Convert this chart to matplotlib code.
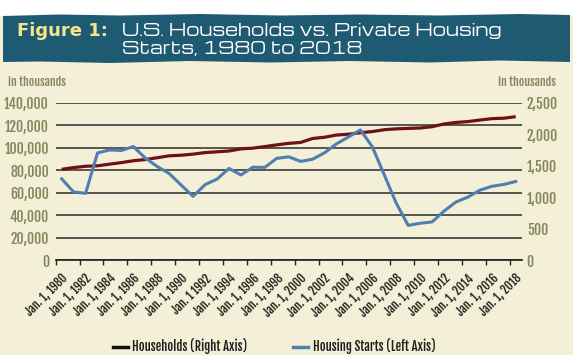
import matplotlib
matplotlib.use('Agg')
import matplotlib.pyplot as plt
from matplotlib.lines import Line2D
from matplotlib.patches import Rectangle, Polygon
from matplotlib.ticker import FixedLocator, FuncFormatter

# ---------------- data ----------------
years = list(range(1980, 2019))
households = [80776, 82368, 83527, 83918, 85407, 86789, 88458, 89479, 91124, 92830,
              93347, 94312, 95669, 96391, 97107, 98990, 99627, 101018, 102528, 103874,
              104705, 108209, 109297, 111278, 112000, 113343, 114384, 116011, 116783, 117181,
              117538, 118682, 121084, 122459, 123229, 124587, 125819, 126224, 127586]
housing_starts = [1292, 1084, 1062, 1703, 1750, 1742, 1805, 1621, 1488, 1376,
                  1193, 1014, 1200, 1288, 1457, 1354, 1477, 1474, 1617, 1641,
                  1569, 1603, 1705, 1848, 1956, 2068, 1801, 1355, 906, 554,
                  587, 609, 781, 925, 1003, 1112, 1174, 1203, 1250]
x_tick_labels = ["Jan. 1, 1980", "Jan. 1, 1982", "Jan. 1, 1984", "Jan. 1, 1986",
                 "Jan. 1, 1988", "Jan. 1, 1990", "Jan. 1 1992", "Jan. 1, 1994",
                 "Jan. 1, 1996", "Jan. 1, 1998", "Jan. 1, 2000", "Jan. 1, 2002",
                 "Jan. 1, 2004", "Jan. 1, 2006", "Jan. 1, 2008", "Jan. 1, 2010",
                 "Jan. 1, 2012", "Jan. 1, 2014", "Jan. 1, 2016", "Jan. 1, 2018"]
left_ticks = [0, 20000, 40000, 60000, 80000, 100000, 120000, 140000]
right_ticks = [0, 500, 1000, 1500, 2000, 2500]
legend_labels = ["Households (Right Axis)", "Housing Starts (Left Axis)"]

# ---------------- style ----------------
W, H = 573, 355
BG = '#f4efd7'
OLIVE = '#86865e'
RED = '#6e1216'
BLUE = '#4f7fb0'
BANNER = '#1f5a73'
COND = ['Fjalla One', 'Anton', 'IBM Plex Sans Condensed', 'DejaVu Sans']
WIDE = ['Michroma', 'DejaVu Sans']

plt.rcParams['font.family'] = COND
plt.rcParams['font.weight'] = 'bold'

fig = plt.figure(figsize=(W / 100, H / 100), dpi=100)
fig.patch.set_facecolor(BG)

def fx(px):
    return px / W

def fy(py):
    return 1 - py / H

# white strip on top
fig.add_artist(Rectangle((0, fy(15)), 1, 15 / H, transform=fig.transFigure,
                         color='white', zorder=0))
# ragged banner
top_pts = [(3, 16), (60, 14.5), (120, 15.5), (200, 14), (280, 15.5), (360, 14.5),
           (440, 15.5), (520, 14), (570, 15)]
bot_pts = [(570, 62), (500, 60.5), (430, 62.5), (350, 61), (270, 62.5), (190, 61),
           (110, 63), (40, 61.5), (3, 62)]
banner_pts = [(fx(x), fy(y)) for x, y in top_pts + bot_pts]
fig.add_artist(Polygon(banner_pts, closed=True, transform=fig.transFigure,
                       facecolor=BANNER, edgecolor='none', zorder=1))

fig.text(fx(17), fy(36), 'Figure 1:', color='#f4e58e', fontsize=13,
         fontweight='bold', family='DejaVu Sans', va='baseline', ha='left', zorder=2)
fig.text(fx(122), fy(36), 'U.S. Households vs. Private Housing', color='white',
         fontsize=12, fontweight='normal', family=WIDE, va='baseline',
         ha='left', zorder=2)
fig.text(fx(122), fy(53.5), 'Starts, 1980 to 2018', color='white',
         fontsize=12, fontweight='normal', family=WIDE, va='baseline',
         ha='left', zorder=2)

# ---------------- axes ----------------
left, right, top, bottom = 55.7, 521.7, 102.7, 260.3
ax = fig.add_axes([fx(left), fy(bottom), (right - left) / W, (bottom - top) / H])
ax.set_facecolor('none')
xs = list(range(len(years)))

ax.plot(xs, households, color=RED, lw=2.3, solid_capstyle='butt', zorder=3)
ax.set_xlim(-0.5, len(years) - 0.5)
ax.set_ylim(0, 140000)
ax.set_yticks(left_ticks)
ax.yaxis.set_major_formatter(FuncFormatter(lambda v, p: f'{int(v):,}'))
ax.grid(axis='y', color='#2a2a2a', lw=1.1, zorder=1)
ax.tick_params(axis='y', length=0, pad=4.8, labelcolor=OLIVE, labelsize=10)

ax.xaxis.set_major_locator(FixedLocator(xs[::2]))
ax.set_xticklabels(x_tick_labels, rotation=45, ha='right', va='top',
                   rotation_mode='anchor', fontsize=8.5, color='#22221c')
ax.xaxis.set_minor_locator(FixedLocator([i - 0.5 for i in xs[::2]]))
ax.tick_params(axis='x', which='major', length=0, pad=8.5)
ax.tick_params(axis='x', which='minor', length=3.5, width=1.0, color='#222222',
               direction='out')
for s in ['left', 'right', 'top']:
    ax.spines[s].set_visible(False)
ax.spines['bottom'].set_color('#1e1e1e')
ax.spines['bottom'].set_linewidth(1.2)

ax2 = ax.twinx()
ax2.plot(xs, housing_starts, color=BLUE, lw=2.2, zorder=4)
ax2.set_ylim(0, 2500)
ax2.set_yticks(right_ticks)
ax2.yaxis.set_major_formatter(FuncFormatter(lambda v, p: f'{int(v):,}'))
ax2.tick_params(axis='y', length=0, pad=3.6, labelcolor=OLIVE, labelsize=10)
for s in ['left', 'right', 'top', 'bottom']:
    ax2.spines[s].set_visible(False)

fig.text(fx(8), fy(82), 'in thousands', color=OLIVE, fontsize=8.5,
         fontweight='bold', ha='left', va='center')
fig.text(fx(556), fy(82), 'in thousands', color=OLIVE, fontsize=8.5,
         fontweight='bold', ha='right', va='center')

handles = [Line2D([], [], color='#111111', lw=2.5),
           Line2D([], [], color=BLUE, lw=2.5)]
leg = fig.legend(handles, legend_labels, loc='center',
                 bbox_to_anchor=(fx(274), fy(346)), ncol=2, frameon=False,
                 handlelength=1.2, handletextpad=0.35, columnspacing=3.7,
                 prop=dict(size=9, weight='bold'))
for t in leg.get_texts():
    t.set_color('#1e1e1e')

fig.savefig('out.png', dpi=100, facecolor=fig.get_facecolor())
